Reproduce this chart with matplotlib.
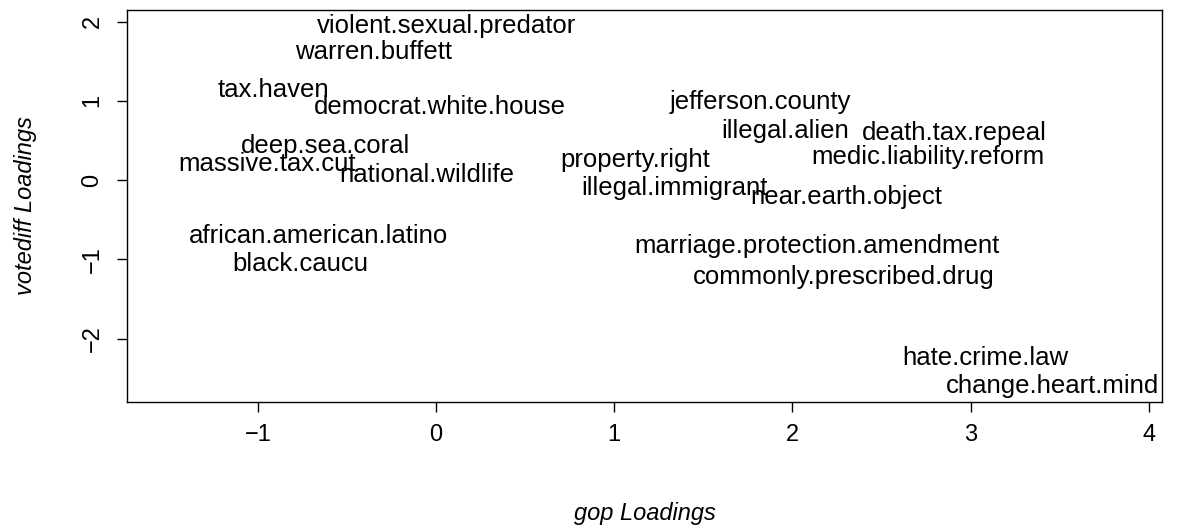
import matplotlib
matplotlib.use('Agg')
import matplotlib.pyplot as plt

# term loadings
terms = ['violent.sexual.predator', 'warren.buffett', 'tax.haven', 'democrat.white.house',
         'jefferson.county', 'illegal.alien', 'death.tax.repeal', 'medic.liability.reform',
         'deep.sea.coral', 'massive.tax.cut', 'national.wildlife', 'property.right',
         'illegal.immigrant', 'near.earth.object', 'african.american.latino', 'black.caucu',
         'marriage.protection.amendment', 'commonly.prescribed.drug', 'hate.crime.law',
         'change.heart.mind']
gop = [0.06, -0.35, -0.91, 0.02,
       1.82, 1.96, 2.91, 2.76,
       -0.62, -0.95, -0.05, 1.12,
       1.34, 2.30, -0.66, -0.76,
       2.14, 2.29, 3.08, 3.46]
votediff = [1.95, 1.62, 1.14, 0.92,
            0.99, 0.62, 0.60, 0.29,
            0.43, 0.20, 0.07, 0.26,
            -0.10, -0.21, -0.70, -1.06,
            -0.83, -1.22, -2.24, -2.60]

plt.rcParams['font.family'] = ['Liberation Sans', 'DejaVu Sans']

fig = plt.figure(figsize=(11.87, 5.30), dpi=100)
ax = fig.add_axes([0.107, 0.2415, 0.872, 0.7395])

for t, x, y in zip(terms, gop, votediff):
    ax.text(x, y, t, ha='center', va='center', fontsize=18.5)

ax.set_xlim(-1.734, 4.074)
ax.set_ylim(-2.80, 2.146)
ax.set_xticks([-1, 0, 1, 2, 3, 4])
ax.set_xticklabels(['\u22121', '0', '1', '2', '3', '4'])
ax.set_yticks([-2, -1, 0, 1, 2])
ax.set_yticklabels(['\u22122', '\u22121', '0', '1', '2'], rotation=90, va='center')
ax.tick_params(direction='out', length=7, width=1, labelsize=17)
ax.tick_params(axis='x', pad=9)
ax.tick_params(axis='y', pad=10)
for s in ax.spines.values():
    s.set_linewidth(1)

ax.set_xlabel('gop Loadings', fontsize=17, style='italic', labelpad=40)
ax.set_ylabel('votediff Loadings', fontsize=17, style='italic', labelpad=32)

fig.savefig('out.png', dpi=100)
